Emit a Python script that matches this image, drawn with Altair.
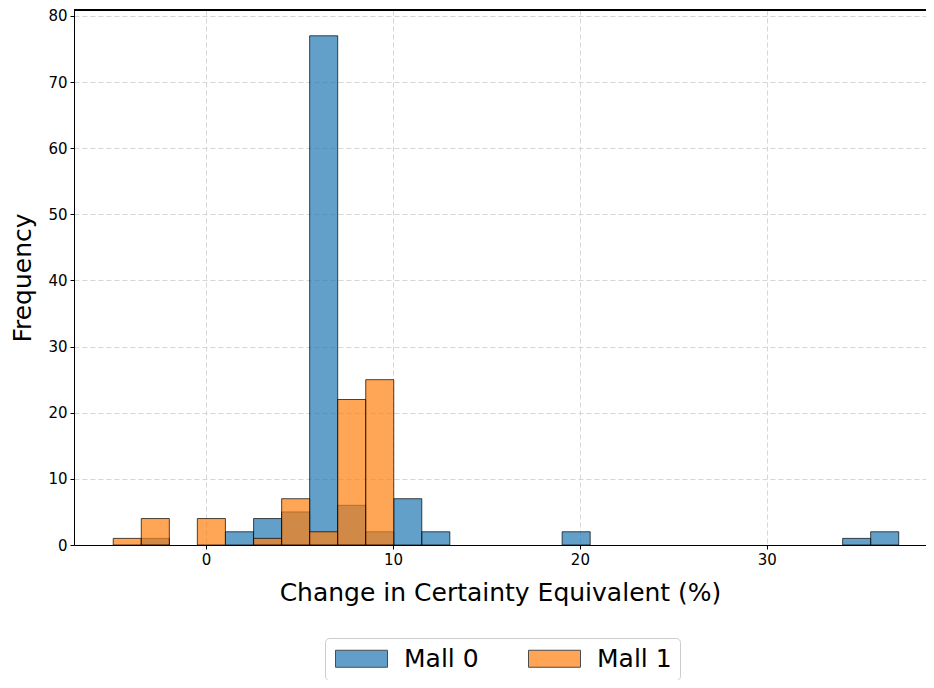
import altair as alt
import pandas as pd

# Shared histogram bins (left edges) and bin width
bin_width = 1.501
mall0_left = [-3.47, 1.03, 2.54, 4.04, 5.54, 7.04, 8.54, 10.04, 11.54, 19.05, 34.06, 35.56]
mall0_count = [1, 2, 4, 5, 77, 6, 2, 7, 2, 2, 1, 2]
mall1_left = [-4.97, -3.47, -0.47, 2.54, 4.04, 5.54, 7.04, 8.54]
mall1_count = [1, 4, 4, 1, 7, 2, 22, 25]
series = ["Mall 0", "Mall 1"]
colors = ["#1f77b4", "#ff7f0e"]
x_ticks = [0, 10, 20, 30]
y_ticks = [0, 10, 20, 30, 40, 50, 60, 70, 80]


def frame(name, lefts, counts):
    return pd.DataFrame({
        "series": name,
        "x0": lefts,
        "x1": [v + bin_width for v in lefts],
        "count": counts,
    })


df0 = frame(series[0], mall0_left, mall0_count)
df1 = frame(series[1], mall1_left, mall1_count)

W, H = 852, 535
xs = alt.Scale(domain=[-7.07, 38.52], nice=False, zero=False)
ys = alt.Scale(domain=[0, 80.9], nice=False)
color = alt.Color(
    "series:N",
    scale=alt.Scale(domain=series, range=colors),
    legend=alt.Legend(
        title=None,
        orient="none",
        legendX=251,
        legendY=628,
        direction="horizontal",
        columns=2,
        columnPadding=47,
        symbolType="M-1,-0.85L4.2,-0.85L4.2,0.85L-1,0.85Z",
        symbolSize=400,
        symbolStrokeColor="#000000",
        symbolStrokeWidth=1,
        symbolOpacity=0.7,
        labelFontSize=25,
        labelFont="DejaVu Sans",
        labelColor="#000000",
        labelOffset=46,
        strokeColor="#cccccc",
        fillColor="#ffffff",
        cornerRadius=4,
        padding=8,
    ),
)

axis_common = dict(
    titleFontSize=25,
    titleFont="DejaVu Sans",
    titleFontWeight="normal",
    titleColor="#000000",
    labelFontSize=15,
    labelFont="DejaVu Sans",
    labelColor="#000000",
    tickColor="#000000",
    tickSize=4,
    labelPadding=3,
    domainColor="#000000",
    domainWidth=1,
    grid=True,
    gridDash=[5, 3],
    gridColor="#cccccc",
    gridWidth=0.8,
)


def bars(df):
    return alt.Chart(df).mark_bar(
        fillOpacity=0.7, stroke="#000000", strokeOpacity=0.7, strokeWidth=1
    ).encode(
        x=alt.X(
            "x0:Q",
            scale=xs,
            axis=alt.Axis(values=x_ticks, title="Change in Certainty Equivalent (%)",
                          titlePadding=13, **axis_common),
        ),
        x2="x1:Q",
        y=alt.Y(
            "count:Q",
            scale=ys,
            stack=None,
            axis=alt.Axis(values=y_ticks, title="Frequency", titlePadding=12, **axis_common),
        ),
        y2=alt.datum(0),
        color=color,
    )


top_spine = alt.Chart(df0).mark_rule(color="#000000", strokeWidth=1).encode(
    x=alt.value(0), x2=alt.value(W), y=alt.value(0)
)

chart = alt.layer(bars(df0), bars(df1), top_spine).properties(
    width=W,
    height=H,
    autosize=alt.AutoSizeParams(type="none"),
    padding={"left": 66, "top": 2, "right": 0, "bottom": 135},
).configure_view(strokeWidth=0)

chart.save("out.html", embed_options={"renderer": "svg", "actions": False})
